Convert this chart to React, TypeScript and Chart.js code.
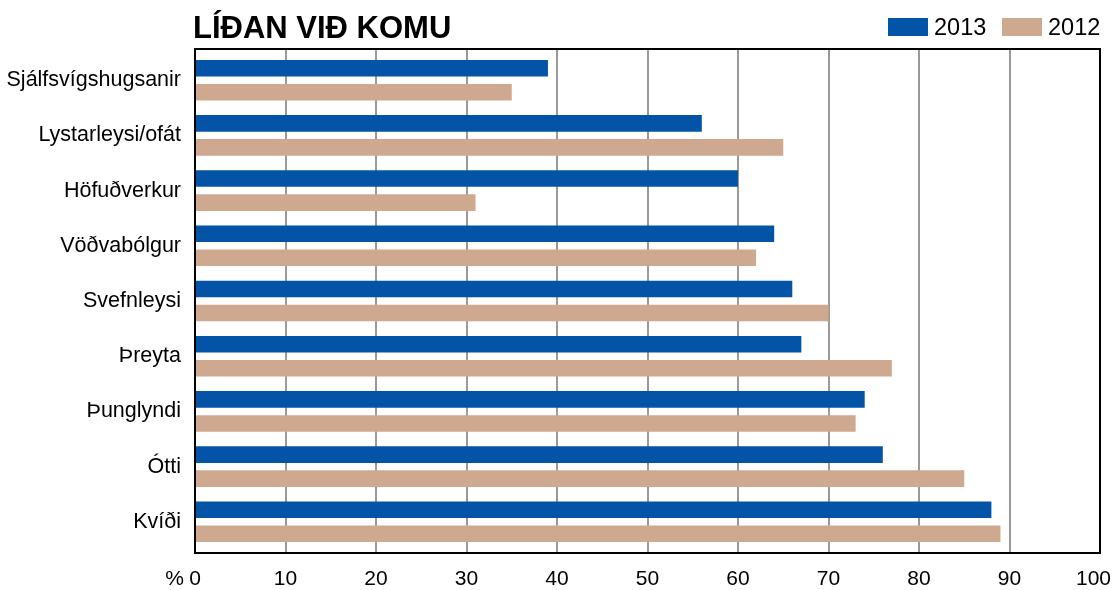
import React, { useEffect, useRef } from "react";
import { Chart, registerables } from "chart.js";

Chart.register(...registerables);

const categories = [
  "Sjálfsvígshugsanir",
  "Lystarleysi/ofát",
  "Höfuðverkur",
  "Vöðvabólgur",
  "Svefnleysi",
  "Þreyta",
  "Þunglyndi",
  "Ótti",
  "Kvíði",
];
const values2013 = [39, 56, 60, 64, 66, 67, 74, 76, 88];
const values2012 = [35, 65, 31, 62, 70, 77, 73, 85, 89];
const seriesLabels = ["2013", "2012"];
const seriesColors = ["#0354A6", "#CFA98F"];
const titleText = "LÍÐAN VIÐ KOMU";
const FONT = "'Liberation Sans', Arial, Helvetica, sans-serif";

const decorPlugin = {
  id: "decor",
  afterDraw(chart: any) {
    const ctx = chart.ctx;
    const a = chart.chartArea;
    ctx.save();
    // frame
    ctx.strokeStyle = "#000";
    ctx.lineWidth = 2;
    ctx.strokeRect(a.left, a.top, a.right - a.left, a.bottom - a.top);
    // title
    ctx.fillStyle = "#000";
    ctx.font = `bold 31px ${FONT}`;
    ctx.textBaseline = "alphabetic";
    ctx.textAlign = "left";
    ctx.fillText(titleText, 193, 38);
    // legend
    ctx.font = `23.5px ${FONT}`;
    const items = chart.data.datasets;
    const boxX = [888, 1002];
    items.forEach((ds: any, i: number) => {
      ctx.fillStyle = ds.backgroundColor;
      ctx.fillRect(boxX[i], 18, 40, 18);
      ctx.fillStyle = "#000";
      ctx.textBaseline = "middle";
      ctx.fillText(ds.label, boxX[i] + 46, 29);
    });
    // x tick labels (from the scale's ticks), kept inside the canvas
    const xs = chart.scales.x;
    ctx.font = `21px ${FONT}`;
    ctx.textAlign = "left";
    ctx.textBaseline = "middle";
    const yLab = a.bottom + 26;
    xs.ticks.forEach((t: any) => {
      const label = String(t.value);
      const w = ctx.measureText(label).width;
      let left = xs.getPixelForValue(t.value) - w / 2;
      if (left + w > 1111) left = 1111 - w;
      ctx.fillText(label, left, yLab);
    });
    // percent sign
    ctx.textAlign = "right";
    ctx.fillText("%", 184, yLab);
    ctx.restore();
  },
};

export default function App() {
  const ref = useRef<HTMLCanvasElement>(null);
  useEffect(() => {
    document.body.style.margin = "0";
    const chart = new Chart(ref.current!, {
      type: "bar",
      data: {
        labels: categories,
        datasets: [
          { label: seriesLabels[0], data: values2013, backgroundColor: seriesColors[0] },
          { label: seriesLabels[1], data: values2012, backgroundColor: seriesColors[1] },
        ],
      },
      options: {
        indexAxis: "y",
        responsive: false,
        animation: false,
        categoryPercentage: 0.87,
        barPercentage: 0.69,
        layout: { padding: { top: 49, right: 14, left: 0, bottom: 0 } },
        plugins: { legend: { display: false }, title: { display: false }, tooltip: { enabled: false } },
        scales: {
          x: {
            min: 0,
            max: 100,
            ticks: { stepSize: 10, display: false },
            grid: { color: "#9a9a9a", lineWidth: 2, drawTicks: false },
            border: { display: true, color: "#000", width: 2 },
            afterFit: (s: any) => { s.height = 37; s.paddingLeft = 0; s.paddingRight = 0; },
          },
          y: {
            ticks: { color: "#000", font: { family: FONT, size: 21.5 }, padding: 14 },
            grid: { display: false, drawTicks: false },
            border: { display: true, color: "#000", width: 2 },
            afterFit: (s: any) => { s.width = 195; s.paddingTop = 0; s.paddingBottom = 0; },
            afterUpdate: (s: any) => {
              const d = 0.065;
              if (typeof s._startValue === "number") {
                s._startValue -= d;
                s._valueRange += 2 * d;
              }
            },
          },
        },
      } as any,
      plugins: [decorPlugin],
    });
    return () => chart.destroy();
  }, []);
  return (
    <div style={{ width: 1114, height: 590 }}>
      <canvas ref={ref} width={1114} height={590} style={{ display: "block" }} />
    </div>
  );
}
